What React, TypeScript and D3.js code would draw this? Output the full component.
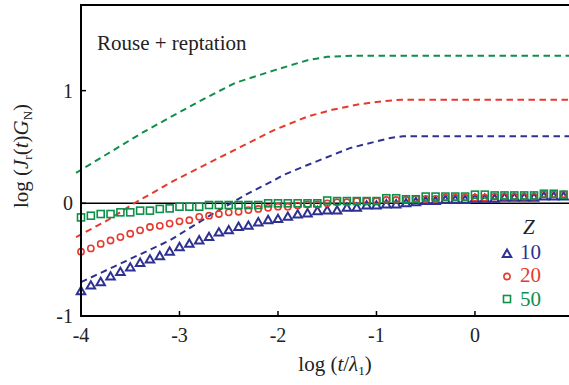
import React from "react";
import * as d3 from "d3";

const W = 569;
const H = 385;

// x positions of the simulation points, log(t/λ1)
const LOG_T = [
  -4.0, -3.9, -3.8, -3.7, -3.6, -3.5, -3.4, -3.3, -3.2, -3.1,
  -3.0, -2.9, -2.8, -2.7, -2.6, -2.5, -2.4, -2.3, -2.2, -2.1,
  -2.0, -1.9, -1.8, -1.7, -1.6, -1.5, -1.4, -1.3, -1.2, -1.1,
  -1.0, -0.9, -0.8, -0.7, -0.6, -0.5, -0.4, -0.3, -0.2, -0.1,
  0.0, 0.1, 0.2, 0.3, 0.4, 0.5, 0.6, 0.7, 0.8, 0.9,
];

const Z10_POINTS = [
  -0.78, -0.73, -0.70, -0.65, -0.61, -0.57, -0.53, -0.50, -0.47, -0.43,
  -0.39, -0.36, -0.33, -0.30, -0.26, -0.24, -0.21, -0.20, -0.17, -0.15,
  -0.14, -0.12, -0.10, -0.09, -0.07, -0.065, -0.065, -0.04, -0.04, -0.02,
  -0.02, -0.01, -0.01, 0.0, 0.01, 0.02, 0.02, 0.03, 0.03, 0.03,
  0.04, 0.04, 0.04, 0.05, 0.05, 0.05, 0.05, 0.06, 0.06, 0.06,
];

const Z20_POINTS = [
  -0.43, -0.40, -0.36, -0.33, -0.30, -0.27, -0.24, -0.21, -0.20, -0.18,
  -0.16, -0.15, -0.12, -0.11, -0.095, -0.08, -0.075, -0.06, -0.05, -0.04,
  -0.03, -0.03, -0.02, -0.01, -0.01, 0.0, 0.01, 0.01, 0.02, 0.02,
  0.02, 0.03, 0.03, 0.03, 0.04, 0.04, 0.04, 0.05, 0.05, 0.05,
  0.05, 0.05, 0.06, 0.06, 0.06, 0.06, 0.06, 0.08, 0.08, 0.08,
];

const Z50_POINTS = [
  -0.125, -0.11, -0.095, -0.095, -0.08, -0.08, -0.065, -0.065, -0.05, -0.045,
  -0.03, -0.03, -0.03, -0.015, -0.015, -0.015, -0.015, -0.015, -0.015, 0.0,
  0.0, 0.0, 0.0, 0.0, 0.0, 0.025, 0.02, 0.02, 0.02, 0.02,
  0.02, 0.045, 0.045, 0.036, 0.036, 0.06, 0.06, 0.06, 0.06, 0.06,
  0.077, 0.077, 0.07, 0.07, 0.07, 0.07, 0.07, 0.085, 0.085, 0.077,
];

// Rouse + reptation theory curves (dashed): [logT, logJ]
const Z10_THEORY: [number, number][] = [
  [-4.0, -0.70], [-3.54, -0.51], [-3.1, -0.33], [-2.62, -0.07], [-2.32, 0.08],
  [-2.05, 0.2], [-1.95, 0.25], [-1.7, 0.34], [-1.27, 0.49], [-0.86, 0.58],
  [-0.73, 0.595], [0.955, 0.595],
];
const Z20_THEORY: [number, number][] = [
  [-4.05, -0.30], [-3.73, -0.15], [-3.46, 0.0], [-3.06, 0.20], [-2.72, 0.35],
  [-2.38, 0.50], [-2.04, 0.65], [-1.70, 0.77], [-1.45, 0.83], [-1.17, 0.88],
  [-0.95, 0.905], [-0.74, 0.92], [0.955, 0.92],
];
const Z50_THEORY: [number, number][] = [
  [-4.05, 0.27], [-3.73, 0.44], [-3.39, 0.62], [-3.06, 0.78], [-2.85, 0.88],
  [-2.80, 0.905], [-2.5, 1.04], [-2.43, 1.07], [-2.04, 1.18], [-1.7, 1.27],
  [-1.5, 1.30], [-1.24, 1.31], [0.955, 1.31],
];

const X_TICKS = [-4, -3, -2, -1, 0];
const Y_TICKS = [-1, 0, 1];
const LEGEND_LABELS = ["10", "20", "50"];

const BLUE = "#2e3192";
const RED = "#e63a2e";
const GREEN = "#0e8f4a";
const FONT = "Liberation Serif";
const TS: React.CSSProperties = { fontFamily: FONT };

const left = 81;
const right = 569;
const top = 5;
const bottom = 316;

export default function App() {
  const x = d3.scaleLinear().domain([-4, 0.955]).range([left, right]);
  const y = d3.scaleLinear().domain([-1, 1.76]).range([bottom, top]);
  const line = d3
    .line<[number, number]>()
    .x((d) => x(d[0]))
    .y((d) => y(d[1]));

  const series = [
    { vals: Z10_POINTS, theory: Z10_THEORY, color: BLUE, shape: "tri" },
    { vals: Z20_POINTS, theory: Z20_THEORY, color: RED, shape: "circ" },
    { vals: Z50_POINTS, theory: Z50_THEORY, color: GREEN, shape: "sq" },
  ];

  const marker = (shape: string, cx: number, cy: number, color: string, key: any) => {
    if (shape === "tri") {
      const s = 8.5;
      const h = s * 0.866;
      const p = `M${cx},${cy - h * 0.6} L${cx + s / 2},${cy + h * 0.4} L${cx - s / 2},${cy + h * 0.4} Z`;
      return <path key={key} d={p} fill="none" stroke={color} strokeWidth={2} strokeLinejoin="miter" />;
    }
    if (shape === "circ") {
      return <circle key={key} cx={cx} cy={cy} r={3.1} fill="none" stroke={color} strokeWidth={1.6} />;
    }
    const s = 7;
    return (
      <rect key={key} x={cx - s / 2} y={cy - s / 2} width={s} height={s} fill="none" stroke={color} strokeWidth={1.6} />
    );
  };

  return (
    <svg
      width={W}
      height={H}
      style={{ position: "absolute", left: 0, top: 0, background: "#fff" }}
    >
      <rect x={0} y={0} width={W} height={H} fill="#fff" />
      {/* zero line */}
      <line x1={left} x2={right} y1={y(0)} y2={y(0)} stroke="#000" strokeWidth={1.6} />

      {/* theory dashed curves */}
      {series.map((s, i) => (
        <path
          key={"th" + i}
          d={line(s.theory) || ""}
          fill="none"
          stroke={s.color}
          strokeWidth={2}
          strokeDasharray="6.5,4.5"
        />
      ))}

      {/* simulation markers */}
      {series.map((s, i) => (
        <g key={"pts" + i}>
          {s.vals.map((v, j) => marker(s.shape, x(LOG_T[j]), y(v), s.color, j))}
        </g>
      ))}

      {/* frame */}
      <line x1={left} x2={left} y1={top} y2={bottom} stroke="#000" strokeWidth={2} />
      <line x1={left - 1} x2={right} y1={bottom} y2={bottom} stroke="#000" strokeWidth={2} />
      <line x1={left - 1} x2={right} y1={top} y2={top} stroke="#000" strokeWidth={2} />

      {/* ticks */}
      {X_TICKS.map((t) => (
        <g key={"xt" + t}>
          <line x1={x(t)} x2={x(t)} y1={bottom} y2={bottom - 5} stroke="#000" strokeWidth={1.5} />
          <text x={x(t)} y={342} fontSize={20} textAnchor="middle" fill="#222" style={TS}>
            {t < 0 ? "-" + Math.abs(t) : String(t)}
          </text>
        </g>
      ))}
      {Y_TICKS.map((t) => (
        <g key={"yt" + t}>
          <line x1={left} x2={left + 5} y1={y(t)} y2={y(t)} stroke="#000" strokeWidth={1.5} />
          <text x={73} y={y(t) + 7} fontSize={20} textAnchor="end" fill="#222" style={TS}>
            {t < 0 ? "-" + Math.abs(t) : String(t)}
          </text>
        </g>
      ))}

      {/* axis labels */}
      <text x={335} y={371} fontSize={21} textAnchor="middle" fill="#222" style={TS}>
        log (<tspan fontStyle="italic">t</tspan>/<tspan fontStyle="italic">λ</tspan>
        <tspan fontSize={13} dy={4}>1</tspan>
        <tspan dy={-4}>)</tspan>
      </text>
      <text
        transform={`translate(28, 156) rotate(-90)`}
        fontSize={21}
        textAnchor="middle"
        fill="#222"
        style={TS}
      >
        log (<tspan fontStyle="italic">J</tspan>
        <tspan fontSize={13} dy={4}>r</tspan>
        <tspan dy={-4}>(</tspan>
        <tspan fontStyle="italic">t</tspan>)<tspan fontStyle="italic">G</tspan>
        <tspan fontSize={13} dy={4}>N</tspan>
        <tspan dy={-4}>)</tspan>
      </text>

      {/* annotation */}
      <text x={97} y={50} fontSize={21} fill="#222" style={TS}>
        Rouse + reptation
      </text>

      {/* legend */}
      <text x={523} y={234} fontSize={21} fontStyle="italic" fill="#222" style={TS}>
        Z
      </text>
      {series.map((s, i) => (
        <g key={"lg" + i}>
          {marker(s.shape, 507, 254 + i * 22.5, s.color, "m")}
          <text x={520} y={259 + i * 23.3} fontSize={21} fill={s.color} style={TS}>
            {LEGEND_LABELS[i]}
          </text>
        </g>
      ))}
    </svg>
  );
}
